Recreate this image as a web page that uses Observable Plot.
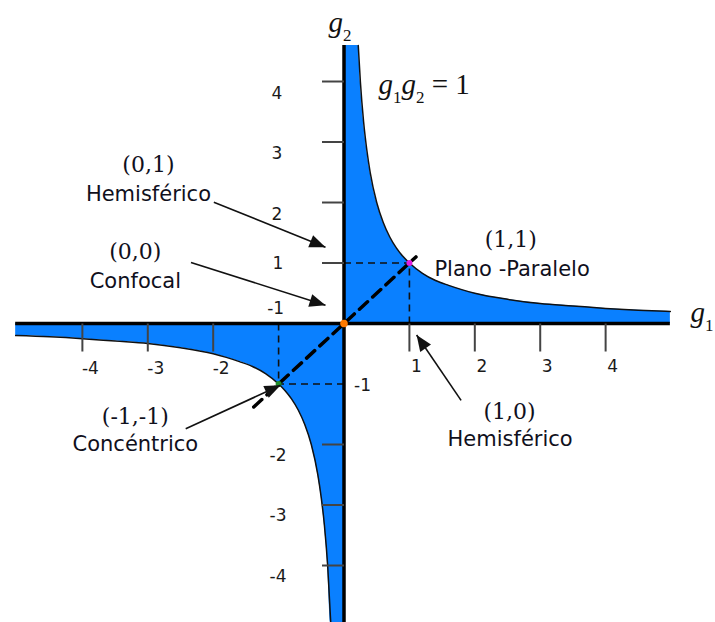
<!DOCTYPE html>
<html><head><meta charset="utf-8">
<script src="https://cdn.jsdelivr.net/npm/d3@7"></script>
<script src="https://cdn.jsdelivr.net/npm/@observablehq/plot@0.6"></script>
<style>html,body{margin:0;padding:0;background:#fff;overflow:hidden}</style>
</head><body><div id="chart"></div>
<script>
// ---------- data ----------
// boundary g1·g2 = 1, first quadrant (clipped at the top of the drawing)
const q1G1 = [0, 0.218, 0.25, 0.3, 0.35, 0.4, 0.5, 0.6, 0.7, 0.8, 0.9, 1, 1.2, 1.4, 1.6, 1.8, 2, 2.5, 3, 3.5, 4, 4.5, 4.99];
const q1G2 = [4.595, 4.595, 4, 3.33, 2.86, 2.5, 2, 1.67, 1.43, 1.25, 1.11, 1, 0.83, 0.71, 0.63, 0.56, 0.5, 0.4, 0.33, 0.29, 0.25, 0.22, 0.2];
// third quadrant
const q3G1 = [-5.02, -4.5, -4, -3.5, -3, -2.5, -2, -1.8, -1.6, -1.4, -1.2, -1, -0.9, -0.8, -0.7, -0.6, -0.5, -0.4, -0.35, -0.3, -0.25, -0.2, 0];
const q3G2 = [-0.2, -0.22, -0.25, -0.29, -0.33, -0.4, -0.5, -0.56, -0.63, -0.71, -0.83, -1, -1.11, -1.25, -1.43, -1.67, -2, -2.5, -2.86, -3.33, -4, -5, -5];

// axes extents
const axisG1 = [-5.02, 4.99];
const axisG2 = [-5, 4.595];

// ticks
const xTicks = [-4, -3, -2, 1, 2, 3, 4];
const yTicks = [-4, -3, -2, 1, 2, 3, 4];
const xTickLabelsPos = [1, 2, 3, 4];
const xTickLabelsNeg = [-4, -3, -2];
const yTickLabelsUpper = [2, 3, 4];
const yTickLabelsOne = [1];
const yTickLabelsNeg = [-2, -3, -4];
const oddLabelX = [-1];   // "-1" drawn above the g1 axis
const oddLabelY = [-1];   // "-1" drawn right of the g2 axis

// special resonators
const pointG1 = [0, 1, -1];
const pointG2 = [0, 1, -1];
const pointNames = ["Confocal", "Plano-Paralelo", "Concéntrico"];

// dashed diagonal g1 = g2
const diagonal = [-1.38, 1.1];

// annotations
const annoText = ["(0,1)", "Hemisférico", "(0,0)", "Confocal", "(1,1)", "Plano -Paralelo", "(1,0)", "Hemisférico", "(-1,-1)", "Concéntrico"];
const annoG1 = [-2.99, -2.99, -3.19, -3.19, 2.55, 2.57, 2.53, 2.54, -3.19, -3.19];
const annoG2 = [2.50, 2.02, 1.07, 0.59, 1.26, 0.79, -1.575, -2.03, -1.66, -2.11];

// arrows
const arrowFromG1 = [-1.99, -2.34, 1.79, -2.42];
const arrowFromG2 = [2.005, 1.01, -1.27, -1.74];
const arrowToG1 = [-0.283, -0.283, 1.11, -0.97];
const arrowToG2 = [1.26, 0.30, -0.19, -1.02];

// axis titles
const titleText = ["g₂", "g₁g₂ = 1", "g₁"];
const titleG1 = [-0.237, 0.527, 5.298];
const titleG2 = [4.826, 3.80, 0.033];

// ---------- chart ----------
const W = 715, H = 622;
const xDomain = [-5.252, 5.680];
const yDomain = [-4.942, 5.339];
const kx = W / (xDomain[1] - xDomain[0]);
const ky = H / (yDomain[1] - yDomain[0]);

const q1 = q1G1.map((g1, i) => ({g1, g2: q1G2[i]}));
const q3 = q3G1.map((g1, i) => ({g1, g2: q3G2[i]}));
const points = pointG1.map((g1, i) => ({g1, g2: pointG2[i], name: pointNames[i]}));
const pointColors = ["#ff7a00", "#e01ee0", "#1f8a2a"];
const guides = points.filter(p => p.g1 !== 0).flatMap(p => [
  {x1: 0, y1: p.g2, x2: p.g1, y2: p.g2},
  {x1: p.g1, y1: 0, x2: p.g1, y2: p.g2}
]);
const annos = annoText.map((t, i) => ({t, g1: annoG1[i], g2: annoG2[i]}));
const arrows = arrowFromG1.map((x1, i) => {
  const a = {x1, y1: arrowFromG2[i], x2: arrowToG1[i], y2: arrowToG2[i]};
  a.angle = Math.atan2(-(a.y2 - a.y1) * ky, (a.x2 - a.x1) * kx) * 180 / Math.PI;
  return a;
});
const titles = titleText.map((t, i) => ({t, g1: titleG1[i], g2: titleG2[i]}));

const headSymbol = {draw(c) { c.moveTo(0, 0); c.lineTo(-16, -6.5); c.lineTo(-16, 6.5); c.closePath(); }};
const vTick = {draw(c) { c.moveTo(0, 0); c.lineTo(0, 28); }};
const hTick = {draw(c) { c.moveTo(-22, 0); c.lineTo(0, 0); }};

const BLUE = "#0a80ff";
const sans = "DejaVu Sans";
const serif = "DejaVu Serif";
const tickFont = {fontFamily: sans, fontSize: 17, fill: "#1a1a1a"};

const svg = Plot.plot({
  width: W, height: H,
  marginTop: 0, marginRight: 0, marginBottom: 0, marginLeft: 0,
  x: {domain: xDomain, axis: null},
  y: {domain: yDomain, axis: null},
  marks: [
    Plot.areaY(q1, {x: "g1", y1: 0, y2: "g2", fill: BLUE, curve: "monotone-x"}),
    Plot.areaY(q3, {x: "g1", y1: 0, y2: "g2", fill: BLUE, curve: "monotone-x"}),
    Plot.line(q1.slice(1), {x: "g1", y: "g2", stroke: "#111", strokeWidth: 1.5, curve: "monotone-x"}),
    Plot.line(q3.slice(0, -1), {x: "g1", y: "g2", stroke: "#111", strokeWidth: 1.5, curve: "monotone-x"}),
    // thin dashed guides
    Plot.link(guides, {x1: "x1", y1: "y1", x2: "x2", y2: "y2", stroke: "#111", strokeWidth: 1.6, strokeDasharray: "7,5"}),
    // axes
    Plot.ruleY([0], {x1: axisG1[0], x2: axisG1[1], stroke: "#000", strokeWidth: 3.5}),
    Plot.ruleX([0], {y1: axisG2[0], y2: axisG2[1], stroke: "#000", strokeWidth: 3.5}),
    // ticks
    Plot.dot(xTicks, {x: d => d, y: 0, symbol: vTick, r: 5, fill: "none", stroke: "#444", strokeWidth: 2}),
    Plot.dot(yTicks, {x: 0, y: d => d, symbol: hTick, r: 5, fill: "none", stroke: "#444", strokeWidth: 2}),
    // diagonal
    Plot.line(diagonal.map(v => ({v})), {x: "v", y: "v", stroke: "#000", strokeWidth: 3.5, strokeDasharray: "11,7"}),
    // special points
    Plot.dot(points, {x: "g1", y: "g2", r: (d, i) => (i === 0 ? 4 : 2.5), fill: (d, i) => pointColors[i], stroke: "none"}),
    // arrows
    Plot.link(arrows, {x1: "x1", y1: "y1", x2: "x2", y2: "y2", stroke: "#111", strokeWidth: 1.6}),
    Plot.dot(arrows, {x: "x2", y: "y2", symbol: headSymbol, r: 5, rotate: "angle", fill: "#111", stroke: "none"}),
    // tick labels
    Plot.text(xTickLabelsPos, {x: d => d, y: 0, text: d => String(d), dx: 7, dy: 43, ...tickFont}),
    Plot.text(xTickLabelsNeg, {x: d => d, y: 0, text: d => String(d), dx: 8, dy: 45, ...tickFont}),
    Plot.text(oddLabelX, {x: d => d, y: 0, text: d => String(d), dx: -3, dy: -15, ...tickFont}),
    Plot.text(yTickLabelsUpper, {x: 0, y: d => d, text: d => String(d), dx: -67, dy: 12, ...tickFont}),
    Plot.text(yTickLabelsOne, {x: 0, y: d => d, text: d => String(d), dx: -66, dy: 1, ...tickFont}),
    Plot.text(yTickLabelsNeg, {x: 0, y: d => d, text: d => String(d), dx: -66, dy: 11, ...tickFont}),
    Plot.text(oddLabelY, {x: 0, y: d => d, text: d => String(d), dx: 18.5, dy: 1.5, ...tickFont}),
    // annotations
    Plot.text(annos.filter(d => d.t.startsWith("(")), {x: "g1", y: "g2", text: "t", lineAnchor: "bottom", fontFamily: serif, fontSize: 22, fill: "#10101c"}),
    Plot.text(annos.filter(d => !d.t.startsWith("(")), {x: "g1", y: "g2", text: "t", lineAnchor: "bottom", fontFamily: sans, fontSize: 21, fill: "#10101c"}),
    // axis titles
    Plot.text(titles, {x: "g1", y: "g2", text: "t", lineAnchor: "bottom", textAnchor: "start", fontFamily: "Liberation Serif", fontSize: 29, fill: "#111"})
  ]
});
svg.style.overflow = "hidden";
svg.style.background = "#fff";

// subscripts / italics for the math titles
const subs = {"₁": "1", "₂": "2"};
d3.select(svg).selectAll("text").each(function () {
  const t = this.textContent;
  if (!/[₁₂]/.test(t)) return;
  this.textContent = "";
  let shifted = false;
  for (const ch of t) {
    const ts = document.createElementNS("http://www.w3.org/2000/svg", "tspan");
    if (subs[ch]) {
      ts.textContent = subs[ch];
      ts.setAttribute("font-size", 17);
      ts.setAttribute("font-style", "normal");
      if (!shifted) { ts.setAttribute("dy", 9); shifted = true; }
    } else {
      ts.textContent = ch;
      ts.setAttribute("font-style", ch === "g" ? "italic" : "normal");
      if (shifted) { ts.setAttribute("dy", -9); shifted = false; }
    }
    this.appendChild(ts);
  }
});

document.getElementById("chart").appendChild(svg);
</script>
</body></html>
